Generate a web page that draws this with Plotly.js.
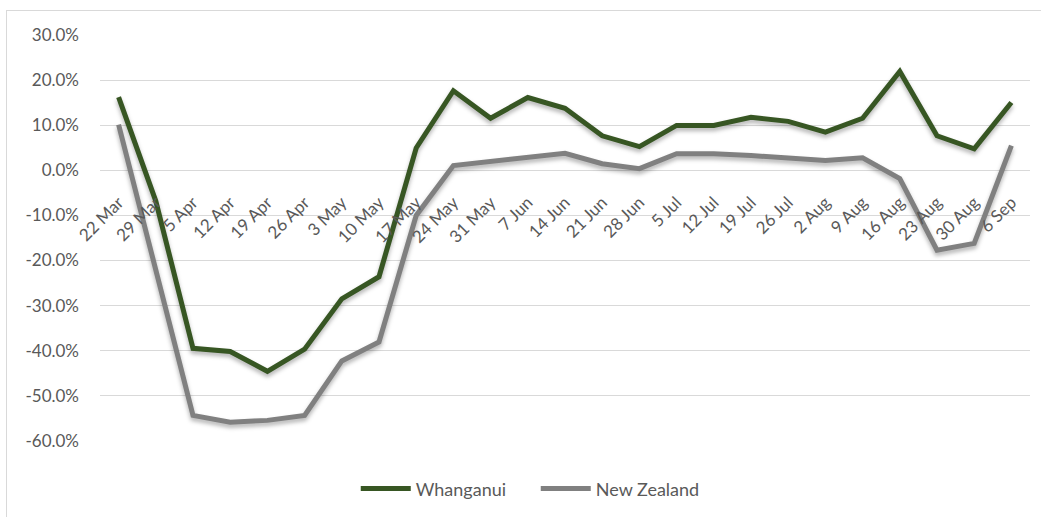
<!DOCTYPE html>
<html>
<head>
<meta charset="utf-8">
<script src="https://cdn.plot.ly/plotly-3.0.1.min.js"></script>
<style>
  html, body { margin: 0; padding: 0; background: #fff; }
  #frame { position: absolute; left: 6px; top: 10px; width: 1035px; height: 507px;
           border-left: 1px solid #d9d9d9; border-top: 1px solid #d9d9d9; box-sizing: border-box; }
  #chart { position: absolute; left: 0; top: 0; width: 1041px; height: 517px; }
  #chart .scatterlayer .js-line { filter: drop-shadow(0px 3px 2px rgba(0,0,0,0.30)); }
</style>
</head>
<body>
<div id="frame"></div>
<div id="chart"></div>
<script>
const categories = ["22 Mar","29 Mar","5 Apr","12 Apr","19 Apr","26 Apr","3 May","10 May","17 May","24 May","31 May","7 Jun","14 Jun","21 Jun","28 Jun","5 Jul","12 Jul","19 Jul","26 Jul","2 Aug","9 Aug","16 Aug","23 Aug","30 Aug","6 Sep"];
const whanganui = [0.163,-0.068,-0.395,-0.402,-0.446,-0.397,-0.285,-0.236,0.050,0.177,0.116,0.162,0.138,0.077,0.053,0.100,0.100,0.118,0.109,0.085,0.116,0.220,0.077,0.048,0.151];
const newZealand = [0.102,-0.220,-0.544,-0.559,-0.555,-0.544,-0.423,-0.381,-0.100,0.011,0.020,0.029,0.038,0.015,0.004,0.037,0.037,0.033,0.028,0.022,0.028,-0.018,-0.177,-0.162,0.055];
const yTicks = [0.3,0.2,0.1,0,-0.1,-0.2,-0.3,-0.4,-0.5,-0.6];
const yTickText = ["30.0%","20.0%","10.0%","0.0%","-10.0%","-20.0%","-30.0%","-40.0%","-50.0%","-60.0%"];

const yMin = -0.6, yMax = 0.3;
const tickFont = {family: "Lato, 'Open Sans', sans-serif", size: 17, color: "#595959"};
const legendFont = {family: "Lato, 'Open Sans', sans-serif", size: 18, color: "#595959"};

const traces = [
  {x: categories, y: whanganui, name: "Whanganui", type: "scatter", mode: "lines",
   line: {color: "#375623", width: 5}},
  {x: categories, y: newZealand, name: "New Zealand", type: "scatter", mode: "lines",
   line: {color: "#808080", width: 5}}
];

const layout = {
  width: 1041, height: 517,
  margin: {l: 100, r: 11, t: 35, b: 75},
  paper_bgcolor: "rgba(0,0,0,0)",
  plot_bgcolor: "rgba(0,0,0,0)",
  font: tickFont,
  showlegend: true,
  legend: {orientation: "h", x: 0.275, xanchor: "left", y: -0.115, yanchor: "middle",
           font: legendFont, itemwidth: 50, tracegroupgap: 0,
           entrywidth: 115, entrywidthmode: "pixels"},
  xaxis: {
    type: "category", categoryorder: "array", categoryarray: categories,
    range: [-0.5, categories.length - 0.5],
    showgrid: false, zeroline: false, showline: false, ticks: "",
    tickangle: -45, tickfont: tickFont,
    anchor: "free", position: (0 - yMin) / (yMax - yMin),
    ticklabelstandoff: 18
  },
  yaxis: {
    range: [yMin - 0.0008, yMax + 0.0008],
    tickvals: yTicks, ticktext: yTickText, tickfont: tickFont,
    showgrid: true, gridcolor: "#d9d9d9", gridwidth: 1,
    zeroline: false, showline: false, ticks: "", ticklabelstandoff: 20
  }
};

Plotly.newPlot("chart", traces, layout, {displayModeBar: false, staticPlot: true});
</script>
</body>
</html>
